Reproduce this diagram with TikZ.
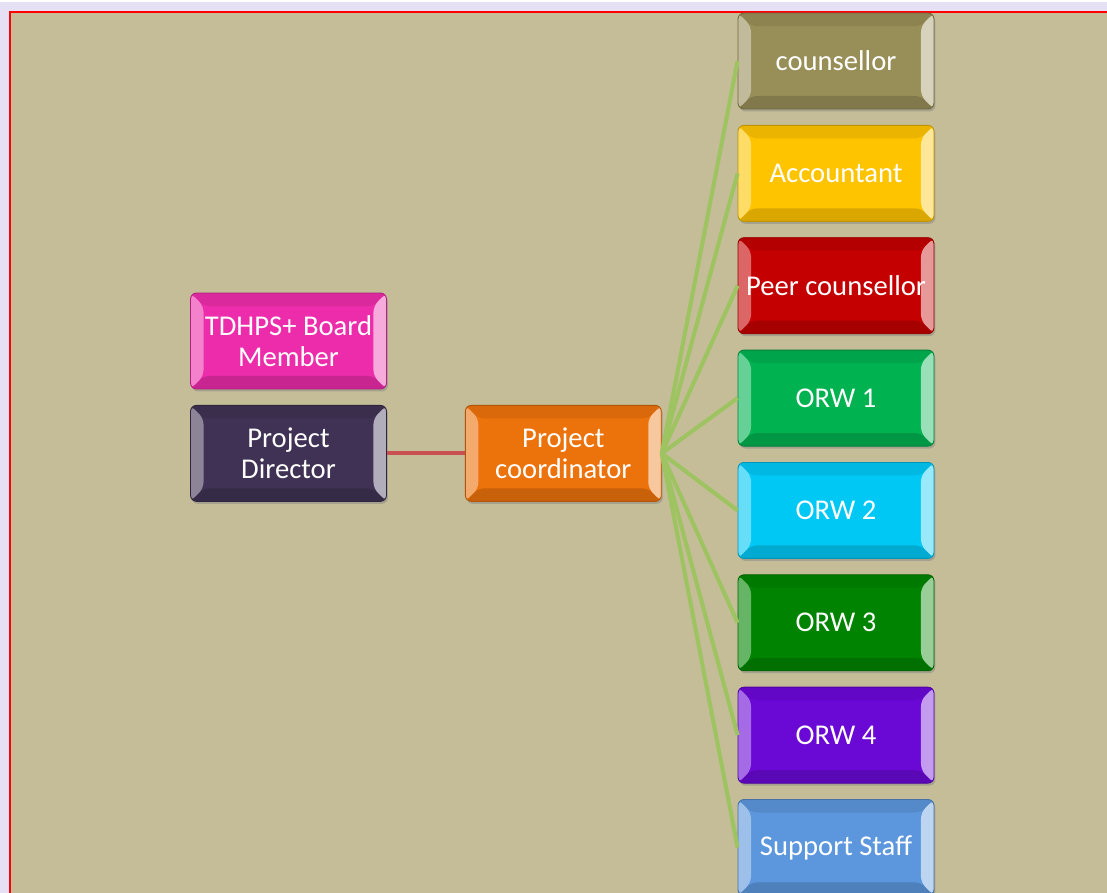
\documentclass[tikz,border=0pt]{standalone}
\usepackage{fontspec}
\setmainfont{Carlito}
\usetikzlibrary{positioning, shadows, calc}

\definecolor{bgtan}{RGB}{196,189,151}
\definecolor{glow}{RGB}{230,224,244}
\definecolor{leaf}{RGB}{158,196,98}
\definecolor{link}{RGB}{200,80,80}
\definecolor{olive}{RGB}{152,142,88}
\definecolor{gold}{RGB}{255,196,0}
\definecolor{crimson}{RGB}{196,0,0}
\definecolor{emerald}{RGB}{0,178,80}
\definecolor{sky}{RGB}{0,200,245}
\definecolor{forest}{RGB}{0,132,0}
\definecolor{grape}{RGB}{106,8,214}
\definecolor{steel}{RGB}{92,150,220}
\definecolor{rose}{RGB}{236,44,170}
\definecolor{plum}{RGB}{64,50,84}
\definecolor{tangerine}{RGB}{236,114,12}

\tikzset{
  box/.style={draw=#1!75!black, line width=0.5pt, fill=#1, rounded corners=0.12cm,
    minimum width=3.92cm, minimum height=1.92cm, text=white, align=center,
    inner xsep=1pt, font=\fontsize{16.3}{17.6}\selectfont,
    drop shadow={opacity=0.45, shadow xshift=0.8pt, shadow yshift=-1.4pt},
    path picture={
      \fill[#1!92!black] (path picture bounding box.north west) -- ++(0.26cm,-0.26cm)
        -- ($(path picture bounding box.north east)+(-0.26cm,-0.26cm)$) -- (path picture bounding box.north east) -- cycle;
      \fill[#1!85!black] (path picture bounding box.south west) -- ++(0.26cm,0.26cm)
        -- ($(path picture bounding box.south east)+(-0.26cm,0.26cm)$) -- (path picture bounding box.south east) -- cycle;
      \fill[#1!60!white] (path picture bounding box.north west) -- ++(0.26cm,-0.26cm)
        -- ($(path picture bounding box.south west)+(0.26cm,0.26cm)$) -- (path picture bounding box.south west) -- cycle;
      \fill[#1!40!white] (path picture bounding box.north east) -- ++(-0.26cm,-0.26cm)
        -- ($(path picture bounding box.south east)+(-0.26cm,0.26cm)$) -- (path picture bounding box.south east) -- cycle;
    }},
  spoke/.style={leaf, line width=2.3pt},
}

\begin{document}
\begin{tikzpicture}[x=0.02cm, y=-0.02cm, node distance=0.31cm]
  \useasboundingbox (0,0) rectangle (1107,893);
  % backdrop
  \fill[white] (0,0) rectangle (1107,893);
  \draw[glow, line width=6pt] (5,893) -- (5,7) -- (1107,7);
  \fill[bgtan] (10,12) rectangle (1107,893);
  \draw[red, line width=1.6pt] (10,893) -- (10,12) -- (1107,12);

  % left side
  \node[box=rose] (1) at (288.5,341) {TDHPS+ Board\\Member};
  \node[box=plum] (2) [below=of 1] {Project\\Director};
  \node[box=tangerine] (3) [right=1.56cm of 2] {Project\\coordinator};

  % staff column
  \node[box=olive] (4) at (836,61) {counsellor};
  \node[box=gold] (5) [below=of 4] {Accountant};
  \node[box=crimson] (6) [below=of 5] {Peer counsellor};
  \node[box=emerald] (7) [below=of 6] {ORW 1};
  \node[box=sky] (8) [below=of 7] {ORW 2};
  \node[box=forest] (9) [below=of 8] {ORW 3};
  \node[box=grape] (10) [below=of 9] {ORW 4};
  \node[box=steel] (11) [below=of 10] {Support Staff};

  \draw[link, line width=2.3pt] (2) -- (3);
  \draw[spoke] (3.east) -- (4.west);
  \draw[spoke] (3.east) -- (5.west);
  \draw[spoke] (3.east) -- (6.west);
  \draw[spoke] (3.east) -- (7.west);
  \draw[spoke] (3.east) -- (8.west);
  \draw[spoke] (3.east) -- (9.west);
  \draw[spoke] (3.east) -- (10.west);
  \draw[spoke] (3.east) -- (11.west);
\end{tikzpicture}
\end{document}
